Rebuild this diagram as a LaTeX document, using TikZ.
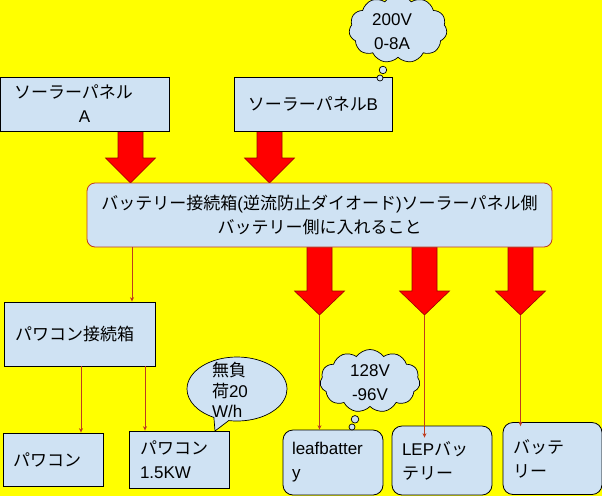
\documentclass[tikz,border=0pt]{standalone}
\usepackage{fontspec}
\setmainfont{Liberation Sans}
\newfontfamily\jp{Noto Sans CJK JP}
\usetikzlibrary{shapes.callouts,shapes.symbols,arrows.meta}
\definecolor{bg}{RGB}{255,255,0}
\definecolor{boxfill}{RGB}{207,226,243}
\definecolor{linered}{RGB}{190,60,30}
\definecolor{arrowred}{RGB}{255,0,0}
\definecolor{arrowedge}{RGB}{153,0,0}
\newcommand\bigarr[4]{\draw[bigarrow] (#1-12.5,#2) -- (#1+12.5,#2) -- (#1+12.5,#3) -- (#1+25,#3) -- (#1,#4) -- (#1-25,#3) -- (#1-12.5,#3) -- cycle;}
\begin{document}
\begin{tikzpicture}[x=1pt,y=-1pt,
  font=\fontsize{17}{24}\selectfont,
  box/.style={draw=black, fill=boxfill, line width=0.8pt, inner ysep=0pt},
  rbox/.style={box, rounded corners=10pt},
  bigarrow/.style={fill=arrowred, draw=arrowedge, line width=0.6pt},
  thinarrow/.style={draw=linered, line width=0.8pt, -{Stealth[length=4.5pt,width=4pt]}},
  thought/.style={cloud callout, draw=black, fill=boxfill, line width=0.7pt, cloud puffs=11, cloud puff arc=110, cloud ignores aspect, inner sep=0pt, callout pointer start size=10pt and 9pt, callout pointer end size=7pt and 6pt, callout pointer segments=2},
  speech/.style={ellipse callout, draw=black, fill=boxfill, line width=0.7pt, inner sep=0pt, callout pointer arc=18}]
\fill[bg] (0,0) rectangle (602,496);
\useasboundingbox (0,0) rectangle (602,496);

% big arrows
\bigarr{130.5}{131}{158}{183}
\bigarr{269.5}{131}{158}{183}
\bigarr{319.5}{247}{291}{315}
\bigarr{424.5}{247}{291}{315}
\bigarr{520.5}{247}{291}{315}
\coordinate (t3) at (319.5,315);
\coordinate (t4) at (424.5,315);
\coordinate (t5) at (520.5,315);
\coordinate (x81) at (81,0);
\coordinate (x132) at (132,0);
\coordinate (x145) at (145,0);

% boxes
\node[box, minimum width=169pt, minimum height=54pt, align=center] (panelA) at (84.5,104)
  {{\jp ソーラーパネル}\hspace*{22pt}\\A};
\node[box, minimum width=158pt, minimum height=54pt, align=center] (panelB) at (313,104)
  {{\jp ソーラーパネル}B};
\node[box, draw=linered, rounded corners=8pt, minimum width=465pt, minimum height=64pt, align=center] (main) at (319.5,215)
  {{\jp バッテリー接続箱}({\jp 逆流防止ダイオード}){\jp ソーラーパネル側}\\{\jp バッテリー側に入れること}};
\node[box, minimum width=151pt, minimum height=64pt, inner xsep=11pt, text width=129pt, align=left] (pj) at (79.5,334)
  {{\jp パワコン接続箱}};
\node[box, minimum width=100pt, minimum height=53pt, inner xsep=10pt, text width=80pt, align=left] (pc) at (53,459.5)
  {{\jp パワコン}};
\node[box, minimum width=100pt, minimum height=57pt, inner xsep=11pt, text width=78pt, align=left] (pc15) at (179,459.5)
  {{\jp パワコン}\\1.5KW};
\node[rbox, minimum width=100pt, minimum height=65pt, inner xsep=9pt, text width=82pt, align=left] (leaf) at (333,462.5)
  {leafbatter\\y};
\node[rbox, minimum width=100pt, minimum height=69pt, inner xsep=10pt, text width=80pt, align=left] (lep) at (442,460.5)
  {LEP{\jp バッ}\\{\jp テリー}};
\node[rbox, minimum width=99pt, minimum height=72pt, inner xsep=10pt, text width=79pt, align=left] (bat) at (552.5,458.5)
  {{\jp バッテ}\\{\jp リー}};

% callouts
\node[thought, minimum width=98pt, minimum height=68pt, callout absolute pointer={(380,78)}] (c1) at (398,29) {};
\node[align=center] (c1t) at (392,32) {200V\\0-8A};
\node[thought, minimum width=100pt, minimum height=63pt, callout absolute pointer={(352,427)}] (c2) at (370,381) {};
\node[align=center] (c2t) at (370,383) {128V\\-96V};
\node[speech, minimum width=100pt, minimum height=64pt, callout absolute pointer={(215,431)}] (sp) at (237,389) {};
\node[align=left, text width=52pt, inner sep=0pt, font=\fontsize{17}{20.5}\selectfont] (spt) at (238,390) {{\jp 無負}\\{\jp 荷}20\\W/h};

% thin connectors
\draw[thinarrow] (main.south -| x132) -- (x132 |- pj.north);
\draw[thinarrow] (pj.south -| x81) -- (x81 |- pc.north);
\draw[thinarrow] (pj.south -| x145) -- (x145 |- pc15.north);
\draw[thinarrow] (t3) -- (t3 |- leaf.north);
\draw[thinarrow] (t4) -- ([yshift=-12pt]t4 |- lep.north);
\draw[thinarrow] (t5) -- ([yshift=-4pt]t5 |- bat.north);
\end{tikzpicture}
\end{document}
